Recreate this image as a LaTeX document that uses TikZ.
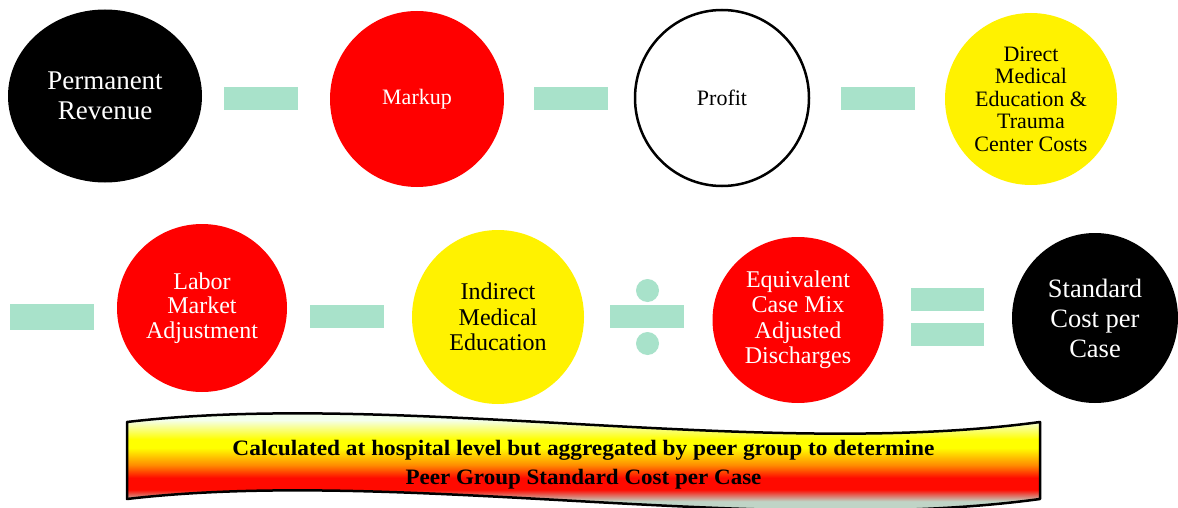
\documentclass[tikz,border=0pt]{standalone}
\usepackage{fontspec}
\setmainfont{Liberation Serif}
\usepackage{graphicx}
\usetikzlibrary{shapes.geometric}
\definecolor{mint}{RGB}{168,226,202}
\definecolor{bsg}{RGB}{192,212,198}
\definecolor{bred}{RGB}{255,10,0}
\definecolor{borange}{RGB}{255,140,0}
\definecolor{byel}{RGB}{255,255,0}
\definecolor{bpale}{RGB}{244,255,236}
\pgfdeclareverticalshading{bannershade}{100bp}{color(0bp)=(bsg); color(30bp)=(bsg); color(35.5bp)=(bred); color(41bp)=(bred); color(47bp)=(borange); color(55bp)=(byel); color(59bp)=(byel); color(68bp)=(bpale); color(100bp)=(bpale)}
\tikzset{
  circ/.style={ellipse, inner sep=0pt, align=center},
  blk/.style={circ, fill=black, text=white},
  redc/.style={circ, fill=red, text=white},
  yel/.style={circ, fill=yellow, text=black},
  wht/.style={circ, draw=black, line width=2.5pt, fill=white, text=black},
  bar/.style={rectangle, fill=mint, inner sep=0pt, minimum width=74pt, minimum height=23pt},
  opdot/.style={circle, fill=mint, inner sep=0pt, minimum size=23pt},
  bannerline/.style={draw=black, line width=2.5pt, line join=round},
}
\begin{document}
\begin{tikzpicture}[x=1pt, y=-1pt]
\path[use as bounding box, fill=white] (0,0) rectangle (1178,508);
% row 1
\node[blk, minimum width=194pt, minimum height=173pt, font=\fontsize{27}{29.5}\selectfont] (pr) at (105,96) {Permanent\\Revenue};
\node[bar] (b1) at (261,98.5) {};
\node[redc, minimum width=174pt, minimum height=176pt, font=\fontsize{22}{24}\selectfont] (mk) at (417,99) {Markup};
\node[bar] (b2) at (570.5,98.5) {};
\node[wht, minimum width=174pt, minimum height=176pt, font=\fontsize{22}{24}\selectfont] (pf) at (722,98) {Profit};
\node[bar] (b3) at (877.5,98.5) {};
\node[yel, minimum width=172pt, minimum height=172pt, font=\fontsize{22}{22.5}\selectfont] (dm) at (1031,99) {Direct\\Medical\\Education \&\\Trauma\\Center Costs};
% row 2
\node[bar, minimum width=84pt, minimum height=26pt] (b4) at (51.5,317) {};
\node[redc, minimum width=170pt, minimum height=168pt, font=\fontsize{24}{24.5}\selectfont] (lm) at (202,308) {Labor\\Market\\Adjustment};
\node[bar] (b5) at (346.5,316.5) {};
\node[yel, minimum width=172pt, minimum height=174pt, font=\fontsize{24}{25.5}\selectfont] (im) at (498,317) {Indirect\\Medical\\Education};
\node[bar] (dv) at (647,316.5) {};
\node[opdot] (dt1) at (647.5,290.5) {};
\node[opdot] (dt2) at (647.5,343.5) {};
\node[redc, minimum width=171pt, minimum height=166pt, font=\fontsize{24}{25.5}\selectfont] (eq) at (798,320) {Equivalent\\Case Mix\\Adjusted\\Discharges};
\node[bar, minimum width=73pt] (e1) at (947.5,299.5) {};
\node[bar, minimum width=73pt] (e2) at (947.5,334.5) {};
\node[blk, minimum width=166pt, minimum height=170pt, font=\fontsize{26.5}{30}\selectfont] (sc) at (1095,318) {Standard\\Cost per\\Case};
% banner
\begin{scope}
\clip (127,422) .. controls (400,390) and (760,460) .. (1040,422) -- (1040,499) .. controls (760,537) and (400,467) .. (127,499) -- cycle;
\shade[shading=bannershade] (120,405) rectangle (1046,512);
\end{scope}
\path[bannerline] (127,422) .. controls (400,390) and (760,460) .. (1040,422) -- (1040,499) .. controls (760,537) and (400,467) .. (127,499) -- cycle;
\node[align=center, inner sep=0pt, font=\fontsize{22}{29}\selectfont\bfseries] (bt) at (583.5,465) {\resizebox{702pt}{\height}{Calculated at hospital level but aggregated by peer group to determine}\\\resizebox{356pt}{\height}{Peer Group Standard Cost per Case}};
\end{tikzpicture}
\end{document}
